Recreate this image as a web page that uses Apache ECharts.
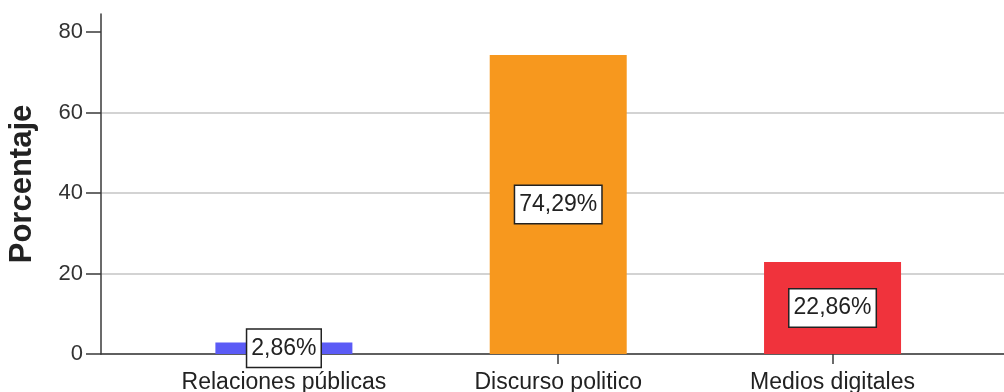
<!DOCTYPE html>
<html>
<head>
<meta charset="utf-8">
<script src="https://cdn.jsdelivr.net/npm/echarts@6/dist/echarts.min.js"></script>
<style>
  html, body { margin: 0; padding: 0; background: #fff; }
  #chart { width: 1004px; height: 392px; }
</style>
</head>
<body>
<div id="chart"></div>
<script>
// Percentage share by category
const categories = ['Relaciones públicas', 'Discurso politico', 'Medios digitales'];
const percentages = [2.86, 74.29, 22.86];
const barColors = ['#5b5bf6', '#f7981e', '#f0333c'];
const yTicks = [0, 20, 40, 60, 80];
const categoryIndexes = categories.map((c, i) => i);

const fontFamily = '"Liberation Sans", Arial, sans-serif';

const chart = echarts.init(document.getElementById('chart'), null, { renderer: 'canvas' });

chart.setOption({
  animation: false,
  grid: { left: 101, right: 0, top: 14, bottom: 38, containLabel: false, outerBoundsMode: 'none' },
  xAxis: {
    type: 'value',
    min: -0.6667,
    max: 2.625,
    axisLine: { show: true, onZero: false, lineStyle: { color: '#3a3a3a', width: 1.5 } },
    axisTick: { show: true, customValues: categoryIndexes, length: 10, lineStyle: { color: '#3a3a3a', width: 1.5 } },
    axisLabel: {
      customValues: categoryIndexes,
      formatter: v => categories[Math.round(v)] || '',
      color: '#222',
      fontSize: 23,
      fontFamily,
      margin: 17
    },
    splitLine: { show: false }
  },
  yAxis: {
    type: 'value',
    min: 0,
    max: 84.5,
    interval: 20,
    name: 'Porcentaje',
    nameLocation: 'middle',
    nameGap: 63,
    nameTextStyle: { fontSize: 31, fontWeight: 'bold', color: '#222', fontFamily },
    axisLine: { show: true, onZero: false, lineStyle: { color: '#3a3a3a', width: 1.5 } },
    axisTick: { show: true, customValues: yTicks, length: 15, lineStyle: { color: '#3a3a3a', width: 1.5 } },
    axisLabel: { customValues: yTicks, color: '#333', fontSize: 22, fontFamily, margin: 18 },
    splitLine: { show: true, showMaxLine: false, lineStyle: { color: '#c4c4c4', width: 1.5 } }
  },
  series: [{
    type: 'bar',
    barWidth: 137,
    data: categories.map((c, i) => ({
      value: [i, percentages[i]],
      itemStyle: { color: barColors[i] }
    })),
    label: {
      show: true,
      position: 'inside',
      formatter: p => p.value[1].toFixed(2).replace('.', ',') + '%',
      color: '#222',
      fontSize: 23,
      lineHeight: 26,
      fontFamily,
      backgroundColor: '#fff',
      borderColor: '#222',
      borderWidth: 1.5,
      padding: [6, 4, 5, 4]
    }
  }]
});
</script>
</body>
</html>
